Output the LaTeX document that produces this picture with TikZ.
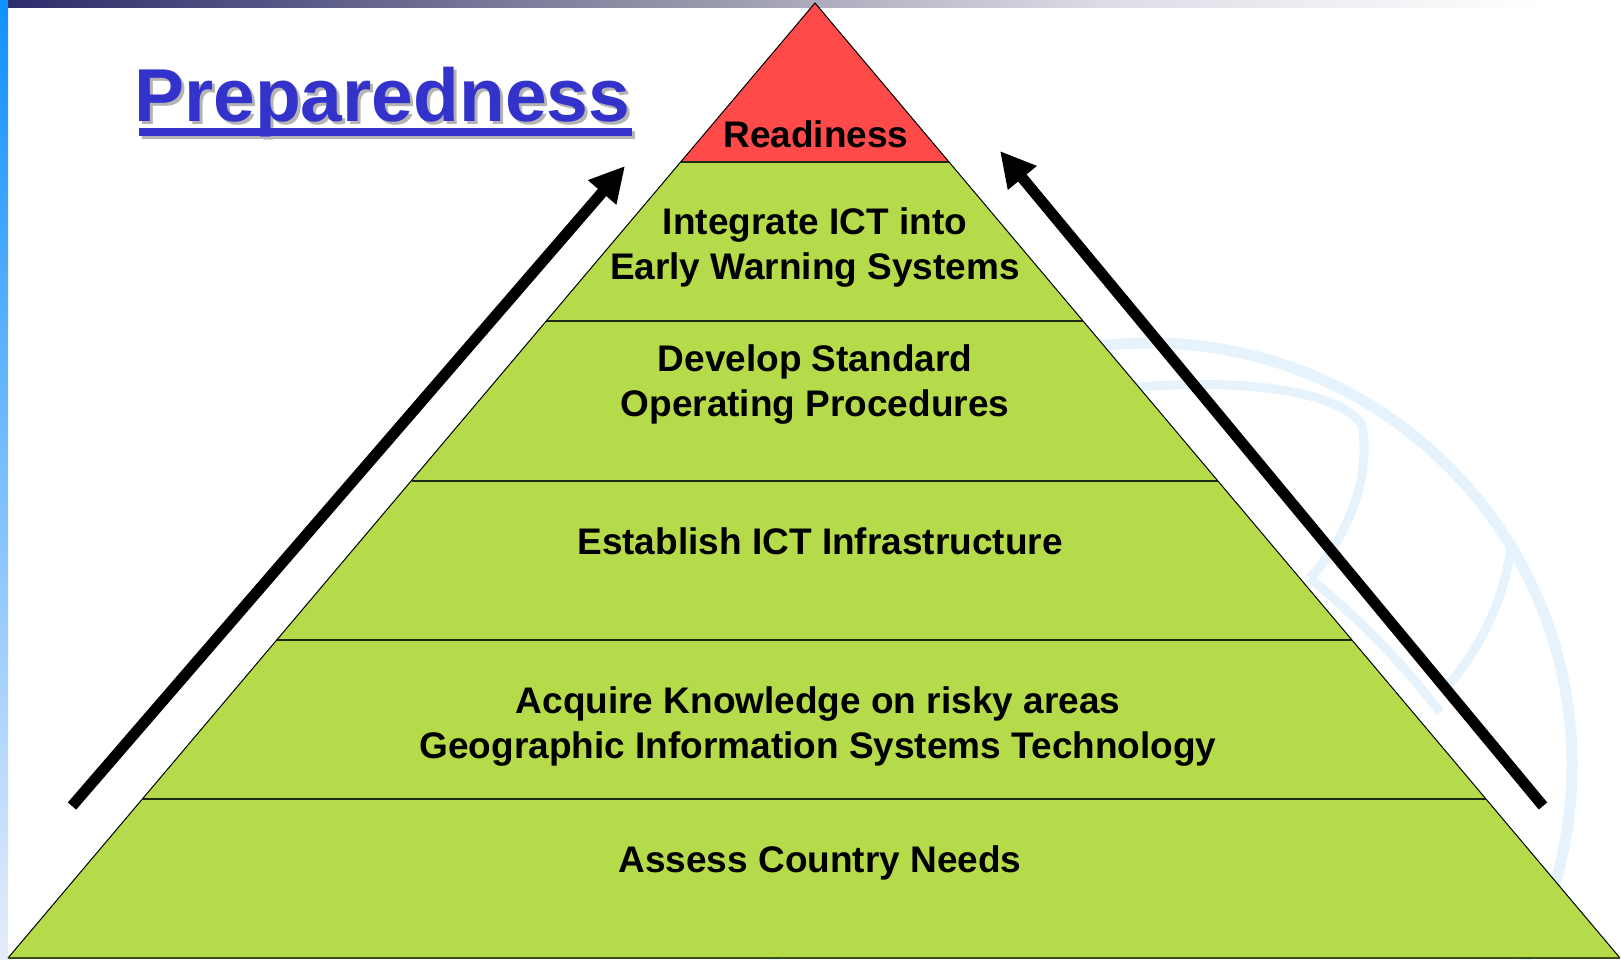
\documentclass[tikz,border=0pt]{standalone}
\usepackage{fontspec}
\setmainfont{Liberation Sans}
\usetikzlibrary{arrows.meta, calc}

\definecolor{layergreen}{HTML}{B5DA4A}
\definecolor{topred}{HTML}{FF4A4A}
\definecolor{darkline}{HTML}{1E2A10}
\definecolor{titleblue}{HTML}{3333CC}
\definecolor{shadowgray}{HTML}{B4B4B4}
\definecolor{globeblue}{HTML}{E6F3FD}
\definecolor{barnavy}{HTML}{2B2B6B}
\definecolor{barmid}{HTML}{9898AC}
\definecolor{barlight}{HTML}{DCDCE6}
\definecolor{barblue}{HTML}{1090FF}
\definecolor{barpale}{HTML}{E6EDFB}

\tikzset{
  band text/.style={anchor=base, align=center, inner sep=0pt,
    font=\fontsize{37}{45}\selectfont\bfseries},
  title text/.style={anchor=base west, inner sep=0pt,
    font=\fontsize{75}{90}\selectfont\bfseries},
  big arrow/.style={line width=11pt, -{Triangle[length=35pt,width=35pt]}},
}

\begin{document}
\begin{tikzpicture}[x=1pt, y=-1pt]
        \useasboundingbox (0,0) rectangle (1621,960);
        \fill [white] (0,0) rectangle (1621,960);

        % Slide frame bars
        \shade [left color=barnavy, right color=barmid] (0,0) rectangle (700,8);
        \shade [left color=barmid, right color=barlight] (700,0) rectangle (1100,8);
        \shade [left color=barlight, right color=white] (1100,0) rectangle (1540,8);
        \shade [top color=barblue, bottom color=barpale] (0,0) rectangle (8,960);

        % Globe watermark
        \begin{scope}
        \clip (8,8) rectangle (1621,960);
        \draw [globeblue, line width=11pt] (1150,765) circle [radius=422];
        \draw [globeblue, line width=9pt] (1090,392) .. controls (1250,372) and (1345,395) .. (1362,425) .. controls (1372,480) and (1345,540) .. (1310,578);
        \draw [globeblue, line width=9pt] (1310,578) .. controls (1360,620) and (1400,660) .. (1440,712);
        \draw [globeblue, line width=9pt] (1512,540) .. controls (1505,600) and (1480,650) .. (1444,690);
        \end{scope}

        % Pyramid
        \coordinate (apex) at (815,3);
        \coordinate (baseL) at (8,958);
        \coordinate (baseR) at (1620,958);
        \foreach \k in {1,...,5} {
            \coordinate (L\k) at ($(apex)!\k/6!(baseL)$);
            \coordinate (R\k) at ($(apex)!\k/6!(baseR)$);
        }
        \fill [layergreen] (apex) -- (baseL) -- (baseR) -- cycle;
        \fill [topred] (apex) -- (L1) -- (R1) -- cycle;
        \foreach \k in {1,...,5}
            \draw [line width=2pt, color=darkline] (L\k) -- (R\k);
        \draw [line width=1pt, color=black] (baseR) -- (apex) -- (baseL);
        \draw [line width=2.5pt, color=darkline!80!layergreen] (baseL) -- (baseR);

        % Layer texts (base = last line)
        \node at (816,148) [band text] (readiness) {Readiness};
        \node at (815,279) [band text] (integrate) {Integrate ICT into\\Early Warning Systems};
        \node at (815,416) [band text] (develop) {Develop Standard\\Operating Procedures};
        \node at (820,554) [band text] (establish) {Establish ICT Infrastructure};
        \node at (818,758) [band text] (acquire) {Acquire Knowledge on risky areas\\Geographic Information Systems Technology};
        \node at (820,872) [band text] (assess) {Assess Country Needs};

        % Rising arrows
        \coordinate (leftTail) at (72,806);
        \coordinate (leftTip) at (625,166);
        \coordinate (rightTail) at (1543,806);
        \coordinate (rightTip) at (1000,151);
        \draw [big arrow] (leftTail) -- (leftTip);
        \draw [big arrow] (rightTail) -- (rightTip);

        % Title with shadow and underline
        \node at (137,125) [title text, text=shadowgray] (titleshadow) {Preparedness};
        \fill [shadowgray] ($(titleshadow.base west)+(5,6)$) rectangle ($(titleshadow.base east)+(1,14)$);
        \node at (134,122) [title text, text=titleblue] (title) {Preparedness};
        \fill [titleblue] ($(title.base west)+(5,6)$) rectangle ($(title.base east)+(1,14)$);

    \end{tikzpicture}
\end{document}
